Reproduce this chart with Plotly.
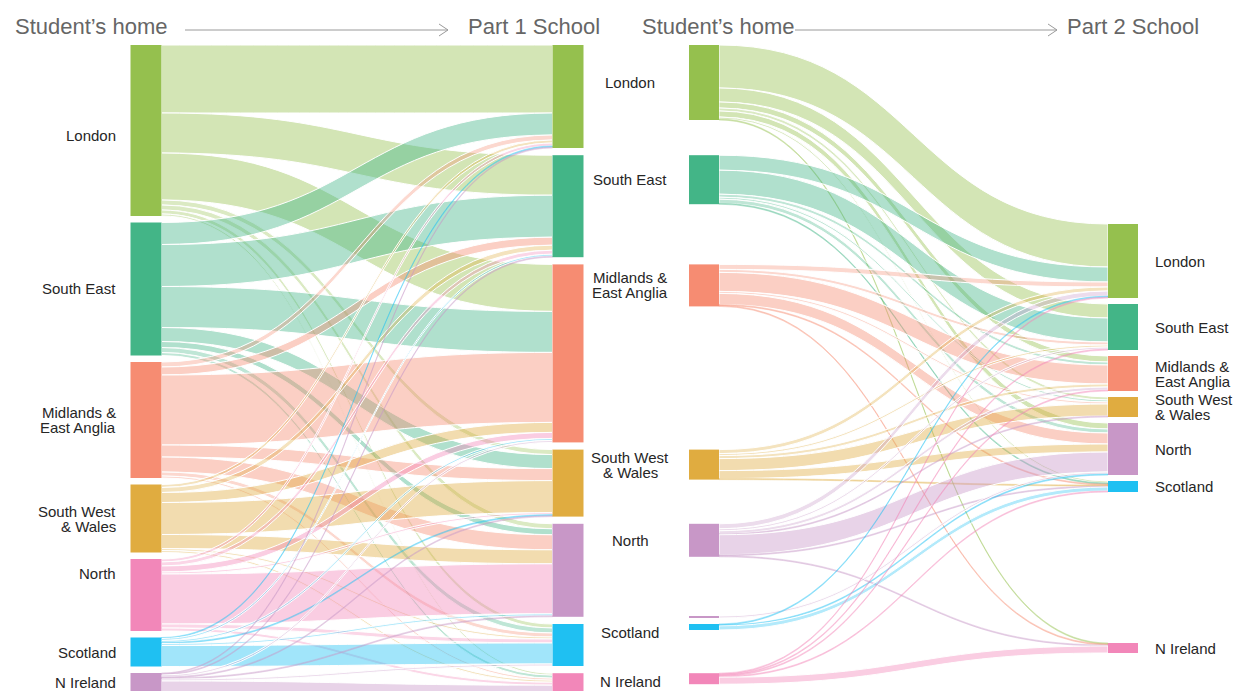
import plotly.graph_objects as go

# ---------------- data ----------------
regions = ["London", "South East", "Midlands & East Anglia", "South West & Wales",
           "North", "Scotland", "N Ireland"]
label_lines = {"Midlands & East Anglia": ["Midlands &", "East Anglia"],
               "South West & Wales": ["South West", "& Wales"]}

# Part 1: rows = student's home, columns = Part 1 school (order of `regions`)
part1_flows = [
    [68, 40, 47, 5, 5, 4, 2],    # London
    [22, 42, 41, 14, 6, 5, 3],   # South East
    [5, 8, 70, 12, 15, 4, 2],    # Midlands & East Anglia
    [3, 5, 10, 32, 14, 2, 2],    # South West & Wales
    [3, 4, 6, 2, 50, 4, 3],      # North
    [1, 2, 2, 1, 2, 21, 0],      # Scotland
    [1, 1, 2, 1, 1, 2, 17],      # N Ireland
]

# Part 2: rows = student's home (incl. one small unlabelled group), columns = Part 2 school
part2_home = ["London", "South East", "Midlands & East Anglia", "South West & Wales",
              "North", "", "Scotland", "N Ireland"]
part2_flows = [
    [43, 14, 6, 3, 6, 2, 1],     # London
    [15, 24, 3, 2, 4, 1, 0],     # South East
    [5, 3, 19, 2, 11, 1, 1],     # Midlands & East Anglia
    [4, 2, 3, 12, 8, 1, 0],      # South West & Wales
    [5, 2, 3, 1, 20, 1, 1],      # North
    [0, 0, 0, 0, 2, 0, 0],       # (unlabelled)
    [1, 0, 0, 0, 1, 4, 0],       # Scotland
    [1, 1, 1, 0, 0, 1, 7],       # N Ireland
]

titles_left = ["Student\u2019s home", "Part 1 School"]
titles_right = ["Student\u2019s home", "Part 2 School"]

# ---------------- styles ----------------
GREEN, TEAL, SALMON, GOLD = "#95c04e", "#43b587", "#f68c72", "#e0ac40"
LILAC, CYAN, PINK = "#c897c7", "#1fc0f2", "#f287b9"
school_colors = [GREEN, TEAL, SALMON, GOLD, LILAC, CYAN, PINK]
home1_colors = [GREEN, TEAL, SALMON, GOLD, PINK, CYAN, LILAC]
home2_colors = [GREEN, TEAL, SALMON, GOLD, LILAC, LILAC, CYAN, PINK]

W, HF = 1247, 691
TOP = 45
H = HF - TOP
KY = 1.0          # pixels per unit


def rgba(c, a):
    return "rgba(%d,%d,%d,%.2f)" % (int(c[1:3], 16), int(c[3:5], 16), int(c[5:7], 16), a)


def fy(center_px):
    return (center_px - TOP) / H


def stack(sizes, start, gap):
    tops, y = [], start
    for s in sizes:
        tops.append(y)
        y += s * KY + gap
    return tops


def build(flows, src_colors):
    ns = len(flows)
    src, tgt, val, col, lw = [], [], [], [], []
    for i, row in enumerate(flows):
        for j, v in enumerate(row):
            if v > 0:
                src.append(i)
                tgt.append(ns + j)
                val.append(v)
                col.append(rgba(src_colors[i], 0.42 if v >= 6 else 0.34))
                lw.append(2.2 if v >= 6 else 0)
    return src, tgt, val, col, lw


# ---------- left sankey ----------
home1_tot = [sum(r) for r in part1_flows]
school1_tot = [sum(part1_flows[i][j] for i in range(len(part1_flows))) for j in range(len(regions))]
home1_tops = stack(home1_tot, TOP, 6.5)
school1_tops = stack(school1_tot, TOP, 7.2)
home1_c = [t + s * KY / 2 for t, s in zip(home1_tops, home1_tot)]
school1_c = [t + s * KY / 2 for t, s in zip(school1_tops, school1_tot)]

total1 = sum(home1_tot)
pad1 = (H - KY * total1) / (len(regions) - 1)
s1, t1, v1, c1, w1 = build(part1_flows, home1_colors)

left = go.Sankey(
    domain=dict(x=[0, 1], y=[0, H / HF]),
    arrangement="fixed",
    node=dict(
        label=regions + regions,
        color=home1_colors + school_colors,
        x=[146 / W] * 7 + [568 / W] * 7,
        y=[fy(c) for c in home1_c] + [fy(c) for c in school1_c],
        pad=pad1, thickness=31, line=dict(width=0),
    ),
    link=dict(source=s1, target=t1, value=v1, color=c1,
              line=dict(color="white", width=w1)),
    textfont=dict(color="rgba(0,0,0,0)", size=1),
)

# ---------- right sankey ----------
home2_tot = [sum(r) for r in part2_flows]
school2_tot = [sum(part2_flows[i][j] for i in range(len(part2_flows))) for j in range(len(regions))]
# home nodes aligned with the Part 1 school nodes
home2_tops = school1_tops[:5] + [school1_tops[5] - 8] + school1_tops[5:]
home2_c = [t + s * KY / 2 for t, s in zip(home2_tops, home2_tot)]
school2_tops = stack(school2_tot[:6], 224, 6) + [643]
school2_c = [t + s * KY / 2 for t, s in zip(school2_tops, school2_tot)]

total2 = sum(home2_tot)
pad2 = (H - KY * total2) / (len(part2_home) - 1)
s2, t2, v2, c2, w2 = build(part2_flows, home2_colors)

right = go.Sankey(
    domain=dict(x=[0, 1], y=[0, H / HF]),
    arrangement="fixed",
    node=dict(
        label=part2_home + regions,
        color=home2_colors + school_colors,
        x=[704 / W] * 8 + [1123 / W] * 7,
        y=[fy(c) for c in home2_c] + [fy(c) for c in school2_c],
        pad=pad2, thickness=30, line=dict(width=0),
    ),
    link=dict(source=s2, target=t2, value=v2, color=c2,
              line=dict(color="white", width=w2)),
    textfont=dict(color="rgba(0,0,0,0)", size=1),
)

fig = go.Figure([left, right])

# ---------- text ----------
ann = []
LBL = dict(family="Liberation Sans, Arial, sans-serif", size=15, color="#262626")


def px(x):
    return x / W


def py(y):
    return 1 - y / HF


def label(text, x, yc, anchor):
    lines = label_lines.get(text, [text])
    ys = [yc - 7.5, yc + 7.5] if len(lines) == 2 else [yc]
    for ln, yy in zip(lines, ys):
        ann.append(dict(text=ln, x=px(x), y=py(yy), xref="paper", yref="paper",
                        xanchor=anchor, yanchor="middle", showarrow=False, font=LBL))


left_offsets = {"London": 5, "North": -22, "N Ireland": -3}
for name, c in zip(regions, home1_c):
    label(name, 118, c + left_offsets.get(name, 0), "right")

mid_offsets = {"Scotland": 5, "N Ireland": 3}
for name, c in zip(part2_home, home2_c):
    if name:
        label(name, 630, c + mid_offsets.get(name, 0), "center")

for name, c in zip(regions, school2_c):
    label(name, 1153, c, "left")

TT = dict(family="Liberation Sans, Arial, sans-serif", size=22, color="#666666")
for text, x in [(titles_left[0], 13), (titles_left[1], 466),
                (titles_right[0], 640), (titles_right[1], 1065)]:
    ann.append(dict(text=text, x=px(x), y=py(27), xref="paper", yref="paper",
                    xanchor="left", yanchor="middle", showarrow=False, font=TT))

shapes = []
for x0, x1 in [(185, 448), (795, 1057)]:
    shapes.append(dict(type="line", xref="paper", yref="paper",
                       x0=px(x0), x1=px(x1), y0=py(30), y1=py(30),
                       line=dict(color="#9a9a9a", width=1)))
    shapes.append(dict(type="path", xref="paper", yref="paper",
                       path="M %f %f L %f %f L %f %f" % (px(x1 - 9), py(24), px(x1), py(30),
                                                         px(x1 - 9), py(36)),
                       line=dict(color="#9a9a9a", width=1)))

fig.update_layout(
    width=W, height=HF,
    margin=dict(l=0, r=0, t=0, b=0),
    paper_bgcolor="white",
    annotations=ann, shapes=shapes,
    font=dict(family="Liberation Sans, Arial, sans-serif"),
)

fig.write_html("out.html", config={"displayModeBar": False},
               post_script="document.body.style.margin='0px';document.body.style.overflow='hidden';")
